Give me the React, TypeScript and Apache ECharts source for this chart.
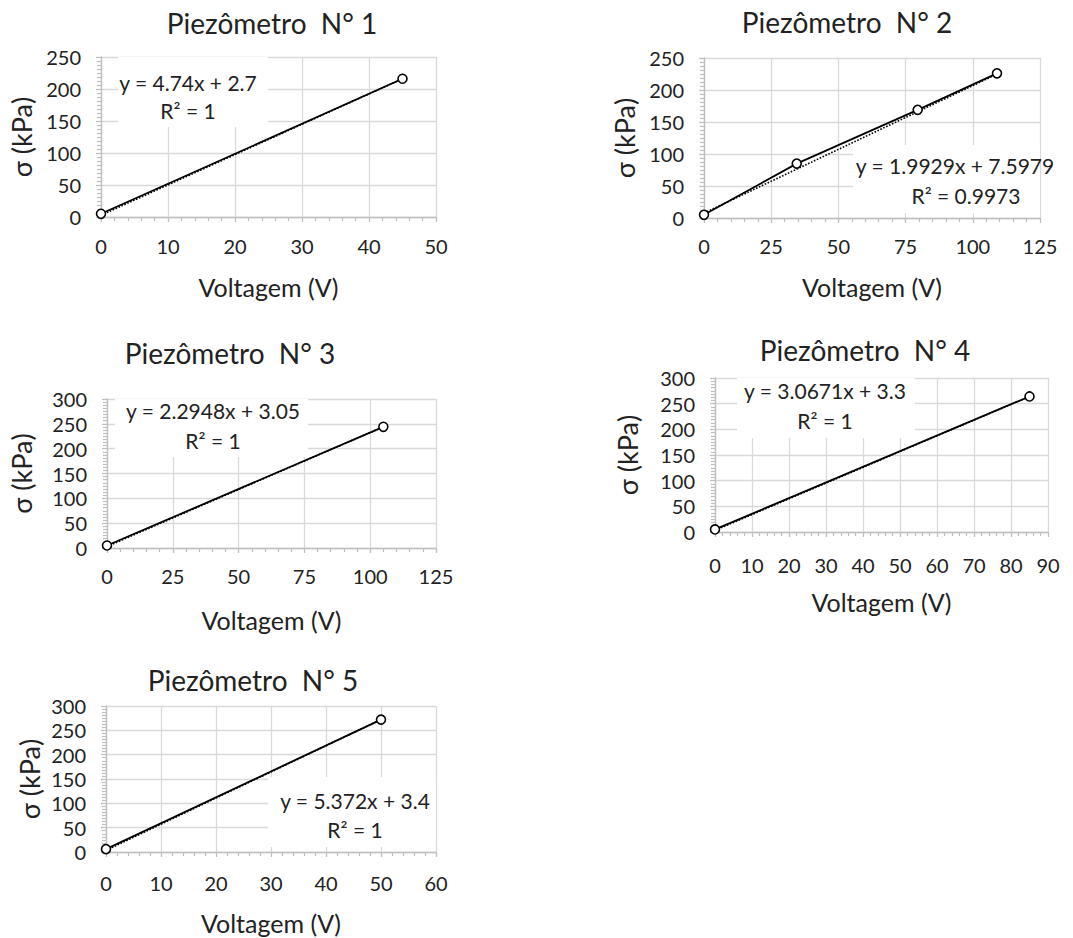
import React, { useEffect, useRef } from "react";
import * as echarts from "echarts";

// ---- Data ----
const titles = ["Piezômetro  N° 1", "Piezômetro  N° 2", "Piezômetro  N° 3", "Piezômetro  N° 4", "Piezômetro  N° 5"];

const x1 = [0, 45];
const y1 = [5, 216];
const x2 = [0, 34.5, 79.5, 109];
const y2 = [5, 85, 169, 226];
const x3 = [0, 105];
const y3 = [5, 244];
const x4 = [0, 85];
const y4 = [5, 264];
const x5 = [0, 50];
const y5 = [6, 272];

// trendline coefficients (slope, intercept) and labels
const slopes = [4.74, 1.9929, 2.2948, 3.0671, 5.372];
const intercepts = [2.7, 7.5979, 3.05, 3.3, 3.4];
const eqLabels = ["y = 4.74x + 2.7", "y = 1.9929x + 7.5979", "y = 2.2948x + 3.05", "y = 3.0671x + 3.3", "y = 5.372x + 3.4"];
const r2Labels = ["R² = 1", "R² = 0.9973", "R² = 1", "R² = 1", "R² = 1"];

// axis scales
const xMax = [50, 125, 125, 90, 60];
const xInterval = [10, 25, 25, 10, 10];
const yMax = [250, 250, 300, 300, 300];
const yInterval = [50, 50, 50, 50, 50];

const xName = "Voltagem (V)";
const yName = "σ (kPa)";

// ---- Layout ----
const grids = [
  { left: 101, top: 57, width: 335, height: 160 },
  { left: 704, top: 58, width: 336, height: 160 },
  { left: 107, top: 399, width: 329, height: 149 },
  { left: 715, top: 378, width: 333, height: 154 },
  { left: 106, top: 706, width: 330, height: 146 },
];
const titlePos = [[272, 23], [847, 22], [230, 353], [865, 350], [253, 680]];
const yNameGap = [66, 66, 72, 74, 63];
const xNameGap = [57, 56, 59, 57, 58];
const xLabelMargin = [19, 18, 18, 23, 21];
const eqBox = [
  [118, 57, 150, 70],
  [853, 145, 187, 68],
  [115, 399, 193, 58],
  [737, 378, 178, 60],
  [268, 777, 168, 70],
];
const eqPos = [[188, 82], [955, 165], [213, 410], [825, 390], [355, 800]];
const r2Pos = [[188, 110], [966, 195], [213, 440], [825, 420], [355, 829]];

const FONT = "Lato";
const TEXT = "#222";
const AXIS = "#bfbfbf";
const GRID = "#d9d9d9";

const xs = [x1, x2, x3, x4, x5];
const ys = [y1, y2, y3, y4, y5];

export default function App() {
  const ref = useRef<HTMLDivElement>(null);
  useEffect(() => {
    if (!ref.current) return;
    const chart = echarts.init(ref.current, null, { renderer: "svg" });

    const xAxis = xs.map((_, i) => ({
      type: "value",
      gridIndex: i,
      min: 0,
      max: xMax[i],
      interval: xInterval[i],
      name: xName,
      nameLocation: "middle",
      nameGap: xNameGap[i],
      nameTextStyle: { fontFamily: FONT, fontSize: 25, color: TEXT, verticalAlign: "top" },
      axisLine: { show: true, onZero: false, lineStyle: { color: AXIS, width: 1.3 } },
      axisTick: { show: true, length: 5, lineStyle: { color: AXIS, width: 1.3 } },
      minorTick: { show: true, splitNumber: 5, length: 4, lineStyle: { color: AXIS, width: 1.2 } },
      splitLine: { show: true, lineStyle: { color: GRID, width: 1.3 } },
      axisLabel: { fontFamily: FONT, fontSize: 20, color: TEXT, margin: xLabelMargin[i] },
    }));
    const yAxis = xs.map((_, i) => ({
      type: "value",
      gridIndex: i,
      min: 0,
      max: yMax[i],
      interval: yInterval[i],
      name: yName,
      nameLocation: "middle",
      nameGap: yNameGap[i],
      nameRotate: 90,
      nameTextStyle: { fontFamily: FONT, fontSize: 27, color: TEXT },
      axisLine: { show: true, onZero: false, lineStyle: { color: AXIS, width: 1.3 } },
      axisTick: { show: true, length: 5, lineStyle: { color: AXIS, width: 1.3 } },
      minorTick: { show: true, splitNumber: 8, length: 4, lineStyle: { color: AXIS, width: 1.2 } },
      splitLine: { show: true, lineStyle: { color: GRID, width: 1.3 } },
      axisLabel: { fontFamily: FONT, fontSize: 20, color: TEXT, margin: 20 },
    }));

    const series: any[] = [];
    xs.forEach((xv, i) => {
      const yv = ys[i];
      const first = xv[0];
      const last = xv[xv.length - 1];
      series.push({
        type: "line",
        xAxisIndex: i,
        yAxisIndex: i,
        data: [
          [first, slopes[i] * first + intercepts[i]],
          [last, slopes[i] * last + intercepts[i]],
        ],
        symbol: "none",
        lineStyle: { color: "#000", width: 1.6, type: "dotted" },
        z: 3,
      });
      series.push({
        type: "line",
        xAxisIndex: i,
        yAxisIndex: i,
        data: xv.map((x, j) => [x, yv[j]]),
        symbol: "circle",
        symbolSize: 9,
        itemStyle: { color: "#fff", borderColor: "#000", borderWidth: 1.6 },
        lineStyle: { color: "#000", width: 1.8 },
        z: 4,
      });
    });

    const graphic: any[] = [];
    titles.forEach((t, i) => {
      graphic.push({
        type: "text",
        x: titlePos[i][0],
        y: titlePos[i][1],
        z: 5,
        style: { text: t, fontFamily: FONT, fontSize: 28, fill: TEXT, textAlign: "center", textVerticalAlign: "middle" },
      });
      const b = eqBox[i];
      graphic.push({
        type: "rect",
        shape: { x: b[0], y: b[1], width: b[2], height: b[3] },
        style: { fill: "#fff" },
        z: 1,
      });
      graphic.push({
        type: "text",
        x: eqPos[i][0],
        y: eqPos[i][1],
        z: 5,
        style: { text: eqLabels[i], fontFamily: FONT, fontSize: 21, fill: TEXT, textAlign: "center", textVerticalAlign: "middle" },
      });
      graphic.push({
        type: "text",
        x: r2Pos[i][0],
        y: r2Pos[i][1],
        z: 5,
        style: { text: r2Labels[i], fontFamily: FONT, fontSize: 21, fill: TEXT, textAlign: "center", textVerticalAlign: "middle" },
      });
    });

    chart.setOption({
      animation: false,
      backgroundColor: "#fff",
      grid: grids.map((g) => ({ ...g, containLabel: false })),
      xAxis,
      yAxis,
      series,
      graphic,
    });
    return () => chart.dispose();
  }, []);

  return (
    <div
      ref={ref}
      style={{ position: "absolute", left: 0, top: 0, width: 1073, height: 938, background: "#fff" }}
    />
  );
}
